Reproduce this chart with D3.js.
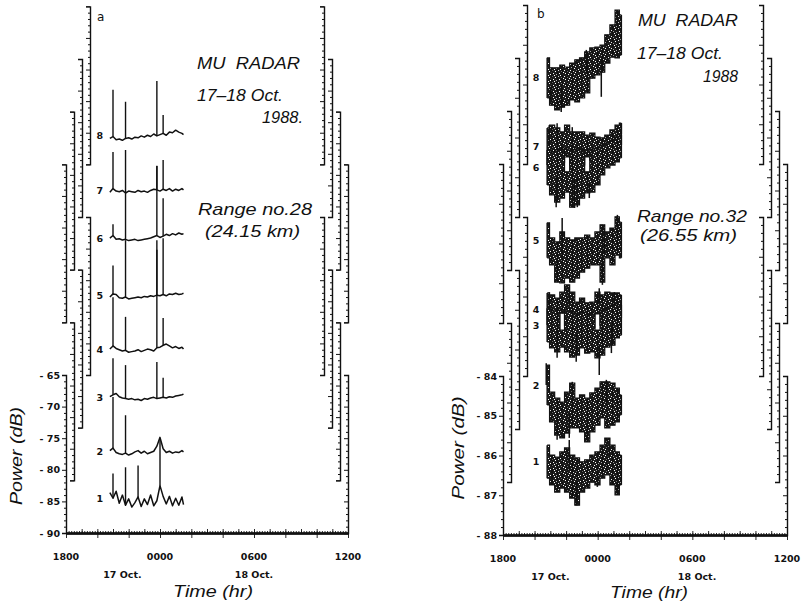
<!DOCTYPE html>
<html>
<head>
<meta charset="utf-8">
<script src="https://cdn.jsdelivr.net/npm/d3@7"></script>
<style>
  body { margin: 0; background: #fff; }
  .lab { font-family: "DejaVu Sans", sans-serif; font-weight: bold; font-size: 9.5px; fill: #111; }
  .note { font-family: "Liberation Sans", sans-serif; font-style: italic; font-size: 17px; fill: #111; white-space: pre; }
  .title { font-family: "Liberation Sans", sans-serif; font-style: italic; font-size: 17px; fill: #111; }
</style>
</head>
<body>
<script>
// time in hours from 17 Oct 00:00
var timeTicks = [18, 24, 30, 36];
var timeLabels = ["1800", "0000", "0600", "1200"];
var dayLabels = ["17 Oct.", "18 Oct."];

// panel a : range 28, line traces, dB on each own axis
var timesA = [20.8, 21.0, 21.2, 21.4, 21.6, 21.8, 22.0, 22.2, 22.4, 22.6, 22.8, 23.0, 23.2,
              23.4, 23.6, 23.8, 24.0, 24.2, 24.4, 24.6, 24.8, 25.0, 25.2, 25.4, 25.5];
var a1 = [-83.6, -84.5, -83.4, -85.3, -84.0, -85.6, -84.6, -85.9, -85.2, -84.3, -85.8, -84.6, -85.5, -84.0, -85.7, -84.9, -82.5, -84.2, -85.4, -84.2, -85.7, -84.5, -85.6, -84.3, -85.5];
var a2 = [-85.3, -84.9, -85.6, -85.8, -85.9, -85.7, -86.0, -85.8, -85.5, -85.3, -85.7, -85.4, -85.8, -85.6, -85.4, -84.6, -83.2, -85.0, -85.6, -85.4, -85.7, -85.5, -85.6, -85.3, -85.5];
var a3 = [-85.1, -84.8, -84.6, -85.1, -85.3, -85.4, -85.5, -85.4, -85.6, -85.5, -85.7, -85.4, -85.5, -85.3, -85.2, -85.4, -85.3, -85.2, -85.3, -85.1, -85.2, -85.0, -84.9, -84.8, -84.7];
var a4 = [-85.9, -85.4, -85.8, -86.0, -86.2, -86.1, -86.4, -86.3, -86.2, -86.0, -86.3, -86.1, -85.9, -86.0, -86.2, -85.7, -85.6, -85.3, -85.1, -85.4, -85.7, -85.5, -85.8, -85.6, -85.9];
var a5 = [-86.0, -85.5, -85.6, -86.1, -86.2, -86.0, -86.3, -86.2, -86.1, -86.0, -86.1, -85.9, -86.0, -85.8, -85.9, -85.7, -85.8, -85.6, -85.8, -85.5, -85.6, -85.4, -85.6, -85.5, -85.4];
var a6 = [-85.0, -84.6, -85.2, -85.1, -85.3, -85.2, -85.4, -85.3, -85.2, -85.4, -85.3, -85.2, -85.1, -85.0, -84.8, -84.6, -84.9, -84.7, -84.4, -84.6, -84.3, -84.5, -84.2, -84.4, -84.3];
var a7 = [-86.1, -85.5, -85.9, -86.0, -85.8, -86.2, -85.9, -86.0, -86.1, -85.8, -86.0, -85.9, -86.1, -85.8, -85.6, -85.7, -85.9, -85.6, -85.8, -85.5, -85.9, -85.6, -85.8, -85.5, -85.7];
var a8 = [-85.9, -85.6, -86.1, -86.0, -86.2, -85.9, -85.8, -86.0, -85.7, -85.8, -85.5, -85.7, -85.4, -85.6, -85.2, -85.5, -85.3, -85.1, -85.4, -84.9, -85.0, -84.6, -84.9, -85.1, -85.3];
var seriesA = [a1, a2, a3, a4, a5, a6, a7, a8];
// spikes [time, peak dB]
var spikesA = [
  [[21.0, -80.6], [21.8, -79.6], [22.6, -79.3], [24.0, -75.0]],
  [[21.0, -76.8], [21.8, -79.7]],
  [[21.0, -79.0], [21.8, -80.1], [23.8, -79.6], [24.2, -82.1]],
  [[21.0, -77.7], [21.8, -80.8], [23.8, -70.2], [24.2, -81.0]],
  [[21.0, -81.0], [21.8, -77.0], [23.8, -77.0], [24.2, -76.7]],
  [[21.0, -82.8], [21.8, -77.7], [23.8, -73.6], [24.2, -78.7]],
  [[21.0, -79.7], [21.8, -79.4], [23.8, -81.9], [24.2, -81.0]],
  [[21.0, -78.2], [21.8, -80.1], [23.8, -76.8], [24.2, -82.2]]
];

// panel b : range 32, min / max envelopes
var timesB = [20.8, 21.1, 21.45, 21.75, 22.05, 22.4, 22.7, 23.0, 23.35, 23.65, 24.0, 24.3, 24.6, 24.95, 25.25, 25.5];
var hiB1 = [-85.74, -85.99, -86.04, -85.91, -85.81, -85.99, -86.06, -86.16, -86.11, -85.99, -85.91, -85.74, -85.56, -85.74, -85.91, -85.99];
var loB1 = [-86.57, -86.74, -86.92, -86.82, -86.92, -87.07, -87.25, -86.92, -86.82, -86.67, -86.74, -86.57, -86.49, -86.74, -86.99, -86.74];
var hiB2 = [-85.06, -85.74, -85.89, -85.99, -85.74, -85.51, -85.89, -85.81, -85.89, -85.76, -85.64, -85.48, -85.48, -85.51, -85.64, -85.81];
var loB2 = [-86.06, -86.49, -86.82, -86.89, -86.77, -86.64, -86.64, -86.74, -86.99, -86.74, -86.57, -86.39, -86.64, -86.57, -86.49, -86.31];
var hiB3 = [-84.96, -85.01, -85.01, -85.51, -84.96, -85.06, -85.13, -85.06, -85.13, -85.08, -85.51, -85.01, -84.96, -84.88, -84.88, -84.88];
var loB3 = [-85.81, -85.96, -86.06, -85.94, -86.06, -86.19, -86.14, -85.96, -86.09, -86.06, -86.21, -86.14, -85.94, -85.89, -85.71, -85.64];
var hiB4 = [-85.91, -85.96, -86.04, -85.89, -85.71, -85.89, -86.14, -86.04, -86.16, -86.14, -85.89, -85.96, -85.89, -85.91, -85.91, -85.96];
var loB4 = [-86.72, -86.79, -86.84, -86.42, -86.72, -86.84, -86.89, -86.79, -86.84, -86.79, -86.44, -86.72, -86.64, -86.59, -86.54, -86.54];
var hiB5 = [-85.48, -85.86, -85.96, -85.71, -85.86, -85.91, -85.86, -85.86, -85.79, -85.86, -85.71, -85.53, -85.71, -85.61, -85.33, -85.46];
var loB5 = [-86.36, -86.54, -86.97, -86.99, -86.87, -86.97, -86.87, -86.72, -86.62, -86.54, -86.54, -86.97, -86.36, -86.54, -86.29, -86.36];
var hiB6 = [-84.98, -85.03, -84.98, -84.93, -85.53, -84.98, -84.93, -84.98, -85.53, -84.98, -84.93, -84.86, -84.78, -84.73, -84.65, -84.60];
var loB6 = [-85.86, -86.11, -86.29, -86.19, -86.04, -86.42, -86.36, -86.19, -86.06, -86.04, -85.86, -85.61, -85.43, -85.36, -85.28, -85.18];
var hiB7 = [-85.76, -85.69, -85.76, -85.86, -85.69, -85.86, -85.86, -85.86, -85.94, -85.89, -85.99, -86.01, -85.94, -85.81, -85.69, -85.64];
var loB7 = [-86.69, -86.77, -86.69, -86.62, -86.49, -86.69, -86.77, -86.69, -86.49, -86.57, -86.64, -86.57, -86.44, -86.31, -86.24, -86.19];
var hiB8 = [-85.33, -85.58, -85.58, -85.51, -85.56, -85.46, -85.38, -85.33, -85.18, -85.08, -85.06, -85.01, -84.75, -84.50, -84.13, -84.25];
var loB8 = [-86.34, -86.52, -86.64, -86.57, -86.52, -86.39, -86.44, -86.34, -86.21, -85.84, -85.76, -85.69, -85.46, -85.31, -85.33, -85.26];
var hiB = [hiB1, hiB2, hiB3, hiB4, hiB5, hiB6, hiB7, hiB8];
var loB = [loB1, loB2, loB3, loB4, loB5, loB6, loB7, loB8];
// single extreme readings sticking out of the bands [time, dB]
var spikesB = [
  [[22.64, -87.25], [25.25, -86.99], [22.2, -85.61], [24.74, -85.56], [23.98, -86.79], [21.12, -86.74]],
  [[20.74, -85.01], [21.43, -86.94], [23.34, -86.99], [22.39, -85.48], [24.55, -85.43], [22.2, -86.89]],
  [[24.1, -86.64], [22.64, -86.31], [21.43, -86.21], [24.87, -86.09]],
  [[22.2, -85.71], [24.1, -85.79], [20.93, -85.89], [25.06, -85.89]],
  [[21.75, -85.36], [25.25, -85.28], [24.3, -87.04], [21.43, -86.97], [24.42, -85.61]],
  [[21.37, -86.42], [22.52, -86.44], [23.47, -86.19], [22.71, -86.42]],
  [[20.93, -85.69], [21.43, -85.64], [25.5, -85.64], [22.39, -85.74]],
  [[21.69, -86.69], [24.23, -86.31], [23.28, -85.13], [21.0, -86.39]]
];

var notesA = ["MU  RADAR", "17\u201318 Oct.", "1988.", "Range no.28", "(24.15 km)"];
var notesB = ["MU  RADAR", "17\u201318 Oct.", "1988", "Range no.32", "(26.55 km)"];

var svg = d3.select("body").append("svg")
  .attr("width", 803)
  .attr("height", 610);

// dithered fill like the old plotter print
var pat = svg.append("defs").append("pattern")
  .attr("id", "dots")
  .attr("patternUnits", "userSpaceOnUse")
  .attr("width", 6).attr("height", 6);
pat.append("rect").attr("width", 6).attr("height", 6).attr("fill", "#1c1c1c");
[[1, 0], [4, 1], [0, 3], [3, 4], [5, 5], [2, 2]].forEach(function(c) {
  pat.append("rect").attr("x", c[0]).attr("y", c[1])
    .attr("width", 1).attr("height", 1).attr("fill", "#fff");
});

var panelA = {
  left: 66, right: 348, bottom: 533, top: 375, gap: 8,
  yDomain: [-90, -65],
  yTicks: d3.range(-90, -64, 1),
  isMajor: d => Math.round(d) % 5 === 0,
  dayTimes: [21.6, 30.0],
  letter: "a", letterPos: [97, 21],
  notes: notesA,
  notePos: [[197, 69, "start", 103], [197, 101, "start", 86], [303, 123, "end", 41],
            [198, 215, "start", 114], [205, 237, "start", 95]],
  yTitle: [22, 456, 98], xTitle: [213, 597, 80]
};
var panelB = {
  left: 503, right: 787, bottom: 535, top: 376, gap: 8,
  yDomain: [-88, -84],
  yTicks: d3.range(0, 21).map(i => -88 + i * 0.2),
  isMajor: d => Math.abs(d - Math.round(d)) < 1e-6,
  dayTimes: [21.0, 30.3],
  letter: "b", letterPos: [537, 18],
  notes: notesB,
  notePos: [[638, 26, "start", 100], [637, 59, "start", 86], [738, 82, "end", 35],
            [637, 222, "start", 110], [640, 241, "start", 97]],
  yTitle: [464, 448, 103], xTitle: [649, 598, 78]
};

function yAxis(g, y, xPos, dy, p, labelled) {
  var ax = d3.axisLeft(y)
    .tickValues(p.yTicks)
    .tickSizeInner(2)
    .tickSizeOuter(4)
    .tickFormat(d => (labelled && p.isMajor(d)) ? "- " + Math.abs(Math.round(d)) : "");
  var a = g.append("g")
    .attr("transform", `translate(${xPos},${dy})`)
    .call(ax);
  a.select(".domain").attr("stroke", "#111").attr("stroke-width", 1.4);
  a.selectAll(".tick line")
    .attr("stroke", "#111")
    .attr("x2", d => p.isMajor(d) ? -4 : -2);
  a.selectAll(".tick text")
    .attr("class", "lab")
    .attr("x", -6)
    .attr("font-size", null).attr("font-family", null);
}

function drawPanel(p) {
  var x = d3.scaleLinear().domain([18, 36]).range([p.left, p.right]);
  var y = d3.scaleLinear().domain(p.yDomain).range([p.bottom, p.top]);
  var step = (p.bottom - p.top) / 3;
  var g = svg.append("g");

  // one staggered pair of axes for each of the 8 traces
  for (var k = 0; k < 8; k++) {
    var col = k % 4;
    yAxis(g, y, p.left + col * p.gap, -k * step, p, k === 0);
    yAxis(g, y, p.right - col * p.gap, -k * step, p, false);
  }

  // time axis: 10 min, hourly and 2-hourly ticks
  var xa = g.append("g").attr("transform", `translate(0,${p.bottom})`);
  xa.append("g").call(d3.axisTop(x).tickValues(d3.range(0, 109).map(i => 18 + i / 6))
    .tickSize(2).tickSizeOuter(0).tickFormat(""));
  xa.append("g").call(d3.axisTop(x).tickValues(d3.range(18, 37, 1))
    .tickSize(4).tickSizeOuter(0).tickFormat(""));
  xa.append("g").call(d3.axisBottom(x).tickValues(d3.range(18, 37, 2))
    .tickSize(5).tickSizeOuter(0).tickFormat(""));
  xa.selectAll(".domain").attr("stroke", "#111").attr("stroke-width", 2);
  xa.selectAll(".tick line").attr("stroke", "#111").attr("stroke-width", 0.9);

  g.selectAll(".tlab").data(timeTicks).enter().append("text")
    .attr("class", "lab")
    .attr("x", d => x(d))
    .attr("y", p.bottom + 27)
    .attr("text-anchor", "middle")
    .text((d, i) => timeLabels[i]);
  g.selectAll(".dlab").data(p.dayTimes).enter().append("text")
    .attr("class", "lab")
    .attr("x", d => x(d))
    .attr("y", p.bottom + 45)
    .attr("text-anchor", "middle")
    .attr("font-size", "9px")
    .text((d, i) => dayLabels[i]);

  g.append("text").attr("class", "title")
    .attr("transform", `translate(${p.xTitle[0]},${p.xTitle[1]})`)
    .attr("text-anchor", "middle")
    .attr("textLength", p.xTitle[2])
    .attr("lengthAdjust", "spacingAndGlyphs")
    .text("Time (hr)");
  g.append("text").attr("class", "title")
    .attr("transform", `translate(${p.yTitle[0]},${p.yTitle[1]}) rotate(-90)`)
    .attr("text-anchor", "middle")
    .attr("textLength", p.yTitle[2])
    .attr("lengthAdjust", "spacingAndGlyphs")
    .text("Power (dB)");

  g.append("text")
    .attr("x", p.letterPos[0]).attr("y", p.letterPos[1])
    .attr("font-family", "DejaVu Sans, sans-serif")
    .attr("font-size", "12px")
    .attr("fill", "#111")
    .text(p.letter);

  p.notes.forEach(function(t, i) {
    var q = p.notePos[i];
    g.append("text").attr("class", "note")
      .attr("x", q[0]).attr("y", q[1])
      .attr("text-anchor", q[2])
      .attr("textLength", q[3])
      .attr("lengthAdjust", "spacingAndGlyphs")
      .text(t);
  });

  return { x: x, y: y, g: g, step: step };
}

// ---- panel a
var A = drawPanel(panelA);
var lineA = d3.line()
  .x((d, i) => A.x(timesA[i]))
  .y(d => A.y(d));
seriesA.forEach(function(s, k) {
  var tg = A.g.append("g").attr("transform", `translate(0,${-k * A.step})`);
  tg.append("path")
    .datum(s)
    .attr("d", lineA)
    .attr("fill", "none")
    .attr("stroke", "#111")
    .attr("stroke-width", 1.5)
    .attr("stroke-linejoin", "round");
  tg.selectAll(".spike").data(spikesA[k]).enter().append("line")
    .attr("x1", d => A.x(d[0]))
    .attr("x2", d => A.x(d[0]))
    .attr("y1", d => A.y(s[timesA.findIndex(t => Math.abs(t - d[0]) < 1e-6)]))
    .attr("y2", d => A.y(d[1]))
    .attr("stroke", "#111")
    .attr("stroke-width", 1.4);
  tg.append("text").attr("class", "lab")
    .attr("x", A.x(timesA[0]) - 10)
    .attr("y", A.y(d3.median(s)) + 3.5)
    .attr("text-anchor", "middle")
    .attr("font-size", "10px")
    .text(k + 1);
});

// ---- panel b
var B = drawPanel(panelB);
var areaB = d3.area()
  .curve(d3.curveStep)
  .x((d, i) => B.x(timesB[i]))
  .y0(d => B.y(d[0]))
  .y1(d => B.y(d[1]));
var edgeB = d3.line()
  .curve(d3.curveStep)
  .x((d, i) => B.x(timesB[i]))
  .y(d => B.y(d));
for (var k = 7; k >= 0; k--) {
  var tg = B.g.append("g").attr("transform", `translate(0,${-k * B.step})`);
  var band = d3.zip(loB[k], hiB[k]);
  tg.append("path").datum(band)
    .attr("d", areaB)
    .attr("fill", "url(#dots)");
  [hiB[k], loB[k]].forEach(function(e) {
    tg.append("path").datum(e)
      .attr("d", edgeB)
      .attr("fill", "none")
      .attr("stroke", "#111")
      .attr("stroke-width", 1.2);
  });
  tg.selectAll(".bar").data(band).enter().append("line")
    .attr("x1", (d, i) => B.x(timesB[i]))
    .attr("x2", (d, i) => B.x(timesB[i]))
    .attr("y1", d => B.y(d[0]))
    .attr("y2", d => B.y(d[1]))
    .attr("stroke", "#111")
    .attr("stroke-width", 1.5);
  var mid = timesB.map((t, i) => (hiB[k][i] + loB[k][i]) / 2);
  tg.selectAll(".spk").data(spikesB[k]).enter().append("line")
    .attr("x1", d => B.x(d[0]))
    .attr("x2", d => B.x(d[0]))
    .attr("y1", d => B.y(mid[d3.leastIndex(timesB, t => Math.abs(t - d[0]))]))
    .attr("y2", d => B.y(d[1]))
    .attr("stroke", "#111")
    .attr("stroke-width", 1.5);
  tg.append("text").attr("class", "lab")
    .attr("x", B.x(timesB[0]) - 11)
    .attr("y", B.y((hiB[k][0] + loB[k][0]) / 2) + 3.5)
    .attr("text-anchor", "middle")
    .attr("font-size", "10px")
    .text(k + 1);
}
</script>
</body>
</html>
